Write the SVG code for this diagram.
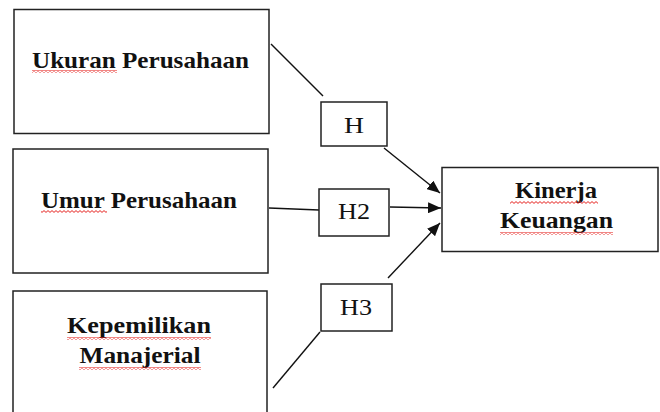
<svg xmlns="http://www.w3.org/2000/svg" width="660" height="412" viewBox="0 0 660 412">
<style>
.box{fill:#fff;stroke:#222;stroke-width:1.5}
.lbl{font-family:"Liberation Serif","Times New Roman",serif;font-weight:bold;font-size:24px;fill:#111;text-anchor:middle}
.h{font-family:"Liberation Serif","Times New Roman",serif;font-size:23px;fill:#111;text-anchor:middle}
.ln{stroke:#111;stroke-width:1.4;fill:none}
.wavy{fill:url(#wave)}
</style>
<defs>
<pattern id="wave" patternUnits="userSpaceOnUse" width="4" height="3">
<path d="M0,0.6 L2,2.4 L4,0.6" fill="none" stroke="#e52420" stroke-width="1"/>
</pattern>
<marker id="arr" markerWidth="13" markerHeight="11" refX="13" refY="5.5" orient="auto" markerUnits="userSpaceOnUse">
<path d="M0,0 L13,5.5 L0,11 Z" fill="#111"/>
</marker>
</defs>
<rect width="660" height="412" fill="#fff"/>
<g id="connectors">
<line class="ln" x1="271" y1="44" x2="323" y2="96"/>
<line class="ln" x1="384" y1="148" x2="440" y2="193" marker-end="url(#arr)"/>
<line class="ln" x1="269" y1="208" x2="319" y2="210"/>
<line class="ln" x1="390" y1="207" x2="441" y2="208" marker-end="url(#arr)"/>
<line class="ln" x1="273" y1="388" x2="320" y2="332"/>
<line class="ln" x1="388" y1="278" x2="440" y2="223" marker-end="url(#arr)"/>
</g>
<g id="ukuran">
<rect class="box" x="14" y="9.5" width="255" height="124"/>
<text class="lbl" x="140.5" y="68" textLength="217" lengthAdjust="spacingAndGlyphs">Ukuran Perusahaan</text>
<rect class="wavy" x="32" y="70" width="85" height="3"/>
</g>
<g id="umur">
<rect class="box" x="13" y="149" width="255" height="124"/>
<text class="lbl" x="139" y="208" textLength="196" lengthAdjust="spacingAndGlyphs">Umur Perusahaan</text>
<rect class="wavy" x="41" y="210" width="66" height="3"/>
</g>
<g id="kepemilikan">
<rect class="box" x="13" y="291" width="254" height="130"/>
<text class="lbl" x="139" y="333" textLength="144" lengthAdjust="spacingAndGlyphs">Kepemilikan</text>
<rect class="wavy" x="67" y="337" width="144" height="3"/>
<text class="lbl" x="140" y="363" textLength="121" lengthAdjust="spacingAndGlyphs">Manajerial</text>
<rect class="wavy" x="79" y="367" width="122" height="3"/>
</g>
<g id="kinerja">
<rect class="box" x="442" y="167.5" width="216" height="84"/>
<text class="lbl" x="556" y="198" textLength="82" lengthAdjust="spacingAndGlyphs">Kinerja</text>
<rect class="wavy" x="510" y="201" width="88" height="3"/>
<text class="lbl" x="556.5" y="228" textLength="113" lengthAdjust="spacingAndGlyphs">Keuangan</text>
<rect class="wavy" x="500" y="232" width="113" height="3"/>
</g>
<g id="h1">
<rect class="box" x="321" y="102" width="66" height="44"/>
<text class="h" x="354" y="133" textLength="20" lengthAdjust="spacingAndGlyphs">H</text>
</g>
<g id="h2">
<rect class="box" x="319" y="189" width="70" height="47"/>
<text class="h" x="354" y="219" textLength="32" lengthAdjust="spacingAndGlyphs">H2</text>
</g>
<g id="h3">
<rect class="box" x="321" y="284" width="71" height="47"/>
<text class="h" x="356" y="315" textLength="32" lengthAdjust="spacingAndGlyphs">H3</text>
</g>
</svg>
